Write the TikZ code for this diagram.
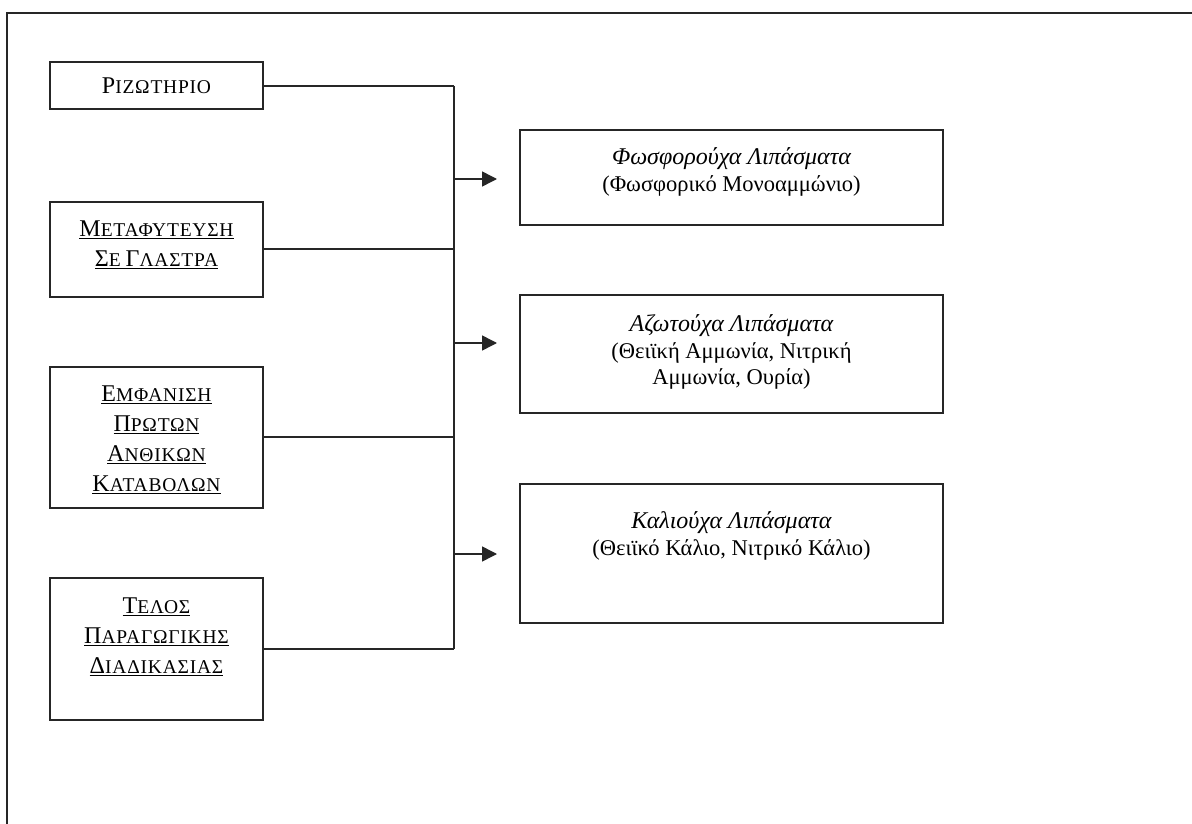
\documentclass[tikz,border=0pt]{standalone}
\usepackage{fontspec}
\setmainfont{Liberation Serif}
\usetikzlibrary{arrows.meta}
\newcommand\Bg[1]{{\fontsize{24}{30}\selectfont #1}}
\newcommand\Sm[1]{{\fontsize{19.5}{30}\selectfont\addfontfeature{LetterSpace=4}#1}}
\newcommand\Ul[1]{\underline{#1}}
\newcommand\It[1]{{\fontsize{24}{26}\selectfont\itshape #1}}
\tikzset{
  lbox/.style={draw=black!85, line width=1.7pt, inner sep=0pt, outer sep=0pt, minimum width=213pt},
  rbox/.style={draw=black!85, line width=2.6pt, inner sep=0pt, outer sep=0pt, minimum width=423pt},
  ltext/.style={align=center, inner sep=0pt, font=\fontsize{19.5}{30}\selectfont},
  rtext/.style={align=center, inner sep=0pt, font=\fontsize{22.5}{26.5}\selectfont},
  conn/.style={draw=black!85, line width=1.5pt},
  arr/.style={conn, -{Triangle[length=15pt,width=15pt]}}
}
\begin{document}
\begin{tikzpicture}[x=1pt,y=-1pt]
\fill[white] (0,0) rectangle (1192,824);
\useasboundingbox (0,0) rectangle (1192,824);
% frame
\draw[black!85, line width=2pt] (7,824) -- (7,13) -- (1192,13);
% left boxes
\node[lbox, minimum height=47pt] (b1) at (156.5,85.5) {};
\node[lbox, minimum height=95pt] (b2) at (156.5,249.5) {};
\node[lbox, minimum height=141pt] (b3) at (156.5,437.5) {};
\node[lbox, minimum height=142pt] (b4) at (156.5,649) {};
\node[ltext] (t1) at (156.5,86) {\Bg{Ρ}\Sm{ΙΖΩΤΗΡΙΟ}};
\node[ltext] (t2) at (156.5,245) {\Ul{\Bg{Μ}\Sm{ΕΤΑΦΥΤΕΥΣΗ}}\\\Ul{\Bg{Σ}\Sm{Ε} \Bg{Γ}\Sm{ΛΑΣΤΡΑ}}};
\node[ltext] (t3) at (156.5,440) {\Ul{\Bg{Ε}\Sm{ΜΦΑΝΙΣΗ}}\\\Ul{\Bg{Π}\Sm{ΡΩΤΩΝ}}\\\Ul{\Bg{Α}\Sm{ΝΘΙΚΩΝ}}\\\Ul{\Bg{Κ}\Sm{ΑΤΑΒΟΛΩΝ}}};
\node[ltext] (t4) at (156.5,637) {\Ul{\Bg{Τ}\Sm{ΕΛΟΣ}}\\\Ul{\Bg{Π}\Sm{ΑΡΑΓΩΓΙΚΗΣ}}\\\Ul{\Bg{Δ}\Sm{ΙΑΔΙΚΑΣΙΑΣ}}};
% right boxes
\node[rbox, minimum height=95pt] (r1) at (731.5,177.5) {};
\node[rbox, minimum height=118pt] (r2) at (731.5,354) {};
\node[rbox, minimum height=139pt] (r3) at (731.5,553.5) {};
\node[rtext] (u1) at (731.5,172) {\It{Φωσφορούχα Λιπάσματα}\\(Φωσφορικό Μονοαμμώνιο)};
\node[rtext] (u2) at (731.5,352) {\It{Αζωτούχα Λιπάσματα}\\(Θειϊκή Αμμωνία, Νιτρική\\Αμμωνία, Ουρία)};
\node[rtext] (u3) at (731.5,536) {\It{Καλιούχα Λιπάσματα}\\(Θειϊκό Κάλιο, Νιτρικό Κάλιο)};
% bus
\coordinate (j1) at (454,86);
\coordinate (j2) at (454,249);
\coordinate (j3) at (454,437);
\coordinate (j4) at (454,649);
\path[conn] (b1.east |- j1) -- (j1);
\path[conn] (b2.east |- j2) -- (j2);
\path[conn] (b3.east |- j3) -- (j3);
\path[conn] (b4.east |- j4) -- (j4);
\path[conn] (j1) -- (j4);
\coordinate (a1) at (454,179);
\coordinate (a2) at (454,343);
\coordinate (a3) at (454,554);
\path[arr] (a1) -- ([xshift=-23pt]r1.west |- a1);
\path[arr] (a2) -- ([xshift=-23pt]r2.west |- a2);
\path[arr] (a3) -- ([xshift=-23pt]r3.west |- a3);
\end{tikzpicture}
\end{document}
